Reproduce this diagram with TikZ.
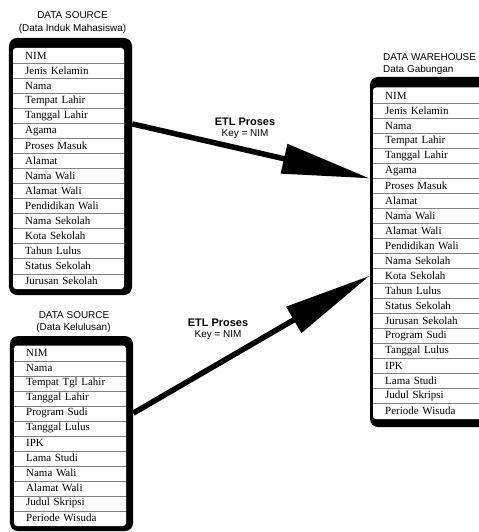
\documentclass[tikz,border=0pt]{standalone}
\usepackage{fontspec}
\setmainfont{Liberation Serif}
\setsansfont{Liberation Sans}
\usetikzlibrary{arrows.meta}

\tikzset{
  frame/.style={fill=black, rounded corners=8bp, inner sep=0pt},
  panel/.style={fill=white, rounded corners=3bp},
  cell/.style={anchor=north west, inner xsep=12bp, inner ysep=0pt, minimum height=15bp,
    text width=#1, align=left, font=\fontsize{11}{12}\selectfont},
  sep/.style={black!50, line width=0.8bp},
  title/.style={font=\sffamily\fontsize{10}{11}\selectfont, inner sep=0pt},
  etl/.style={font=\sffamily\bfseries\fontsize{11}{12}\selectfont, inner sep=0pt},
  key/.style={font=\sffamily\fontsize{10}{11}\selectfont, inner sep=0pt},
  bigarrow/.style={line width=5.5bp, -{Triangle[length=88bp, width=29bp]}},
}

\begin{document}
\begin{tikzpicture}[x=1bp, y=-1bp]
\useasboundingbox (0,0) rectangle (479,532);
% black frames of the three tables
\node[frame, minimum width=123bp, minimum height=257bp] (induk) at (70.5,166.5) {};
\node[frame, minimum width=123bp, minimum height=195bp] (lulus) at (71.5,433.5) {};
\node[frame, minimum width=124bp, minimum height=350bp] (gabung) at (432,252) {};
\fill[panel] (13,48) rectangle (124,289);
\fill[panel] (14,345.5) rectangle (126,526);
\fill[panel] (373,87.5) rectangle (500,419);
% titles
\node[title] (induk-t) at (72.5,15) {DATA SOURCE};
\node[title] (induk-s) at (72.5,29) {(Data Induk Mahasiswa)};
\node[title] (lulus-t) at (74,315) {DATA SOURCE};
\node[title] (lulus-s) at (73.5,328) {(Data Kelulusan)};
\node[title, anchor=west] (gabung-t) at (383,57) {DATA WAREHOUSE};
\node[title, anchor=west] (gabung-s) at (383,70) {Data Gabungan};
% rows
\foreach \t [count=\i] in {NIM, Jenis Kelamin, Nama, Tempat Lahir, Tanggal Lahir, Agama,
    Proses Masuk, Alamat, Nama Wali, Alamat Wali, Pendidikan Wali, Nama Sekolah,
    Kota Sekolah, Tahun Lulus, Status Sekolah, Jurusan Sekolah}
  \node[cell=87bp] (induk-\i) at (13,{48.5+(\i-1)*15}) {\t};
\foreach \t [count=\i] in {NIM, Nama, Tempat Tgl Lahir, Tanggal Lahir, Program Sudi,
    Tanggal Lulus, IPK, Lama Studi, Nama Wali, Alamat Wali, Judul Skripsi, Periode Wisuda}
  \node[cell=88bp] (lulus-\i) at (14,{345.5+(\i-1)*15}) {\t};
\foreach \t [count=\i] in {NIM, Jenis Kelamin, Nama, Tempat Lahir, Tanggal Lahir, Agama,
    Proses Masuk, Alamat, Nama Wali, Alamat Wali, Pendidikan Wali, Nama Sekolah,
    Kota Sekolah, Tahun Lulus, Status Sekolah, Jurusan Sekolah, Program Sudi,
    Tanggal Lulus, IPK, Lama Studi, Judul Skripsi, Periode Wisuda}
  \node[cell=93bp] (gabung-\i) at (373,{88+(\i-1)*15}) {\t};
% row lines
\foreach \i in {1,...,15}
  \draw[sep] (induk-\i.south west) -- (induk-\i.south east);
\foreach \i in {1,...,11}
  \draw[sep] (lulus-\i.south west) -- (lulus-\i.south east);
\foreach \i in {1,...,21}
  \draw[sep] (gabung-\i.south west) -- (gabung-\i.south east);
% ETL arrows
\draw[bigarrow] (induk-5.south -| induk.east) -- (gabung-6.south -| gabung.west);
\draw[bigarrow] (lulus-5.center -| lulus.east) -- (gabung-13.center -| gabung.west);
\node[etl] (etl-1) at (245,122) {ETL Proses};
\node[key] (key-1) at (245,134) {Key = NIM};
\node[etl] (etl-2) at (218,323) {ETL Proses};
\node[key] (key-2) at (218,335) {Key = NIM};
\end{tikzpicture}
\end{document}
